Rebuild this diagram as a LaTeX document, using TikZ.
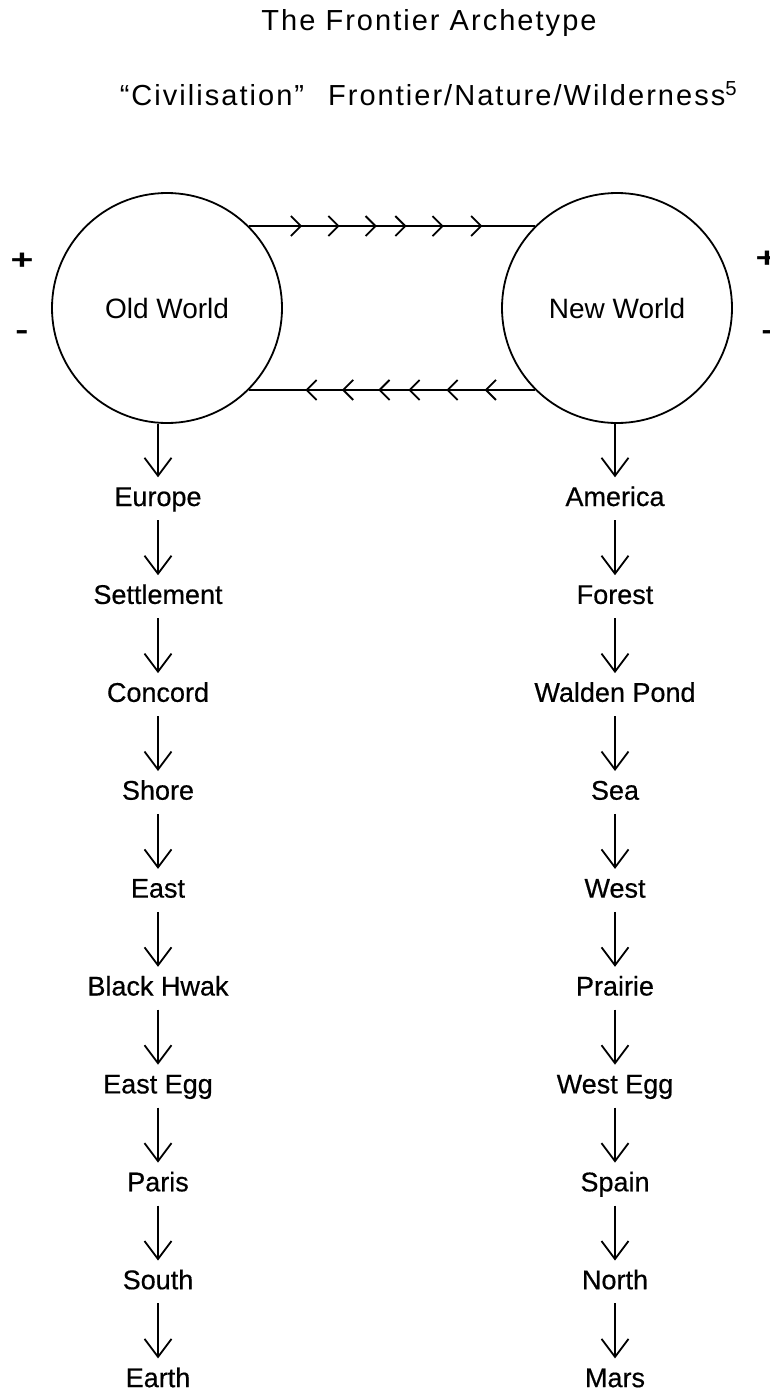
\documentclass[tikz,border=0pt]{standalone}
\usepackage{fontspec}
\setmainfont{Liberation Sans}
\newfontfamily\labfont{Liberation Sans}[FakeBold=0.5]
\newfontfamily\titfont{Liberation Sans}[LetterSpace=7]
\newfontfamily\signfont{Liberation Sans Bold}
\usetikzlibrary{arrows.meta,decorations.markings}
\tikzset{
  chev/.tip={Straight Barb[length=10pt,width=20pt]},
  lbl/.style={font=\labfont\fontsize{27}{32}\selectfont, inner sep=0pt, text height=19pt, text depth=6pt, anchor=base},
  world/.style={draw, circle, minimum size=230pt, inner sep=0pt, line width=1.8pt, font=\fontsize{28}{32}\selectfont},
  ttl/.style={font=\titfont\fontsize{29}{34}\selectfont, inner sep=0pt, anchor=base},
  sign/.style={font=\signfont\fontsize{28}{32}\selectfont, inner sep=0pt},
  down/.style={line width=1.8pt, -{Straight Barb[length=18pt,width=27pt]}, shorten >=9.5pt},
  link/.style={line width=1.8pt},
  fwd/.style={postaction={decorate}, decoration={markings,
    mark=at position 0.186 with {\arrow{chev}},
    mark=at position 0.317 with {\arrow{chev}},
    mark=at position 0.447 with {\arrow{chev}},
    mark=at position 0.551 with {\arrow{chev}},
    mark=at position 0.681 with {\arrow{chev}},
    mark=at position 0.816 with {\arrow{chev}}}},
  bwd/.style={postaction={decorate}, decoration={markings,
    mark=at position 0.197 with {\arrowreversed{chev}},
    mark=at position 0.325 with {\arrowreversed{chev}},
    mark=at position 0.452 with {\arrowreversed{chev}},
    mark=at position 0.557 with {\arrowreversed{chev}},
    mark=at position 0.690 with {\arrowreversed{chev}},
    mark=at position 0.824 with {\arrowreversed{chev}}}}
}
\begin{document}
\begin{tikzpicture}[x=1pt,y=-1pt]
\useasboundingbox (0,0) rectangle (770,1392);
\node[ttl] (title) at (429,30.7) {The Frontier Archetype};
\node[ttl] (subtitle) at (428.5,105) {“Civilisation”\hspace{24pt}Frontier/Nature/Wilderness\textsuperscript{5}};
\node[world] (old) at (167,308) {Old World};
\node[world] (new) at (617,308) {New World};
\node[sign] (lp) at (22,261.5) {\scalebox{1.4}[1]{+}};
\node[sign] (lm) at (22,335) {\scalebox{1.4}[1]{-}};
\node[sign] (rp) at (767,259) {\scalebox{1.4}[1]{+}};
\node[sign] (rm) at (768,335) {\scalebox{1.4}[1]{-}};
\draw[link,fwd] (old.45) -- (new.135);
\draw[link,bwd] (old.-45) -- (new.-135);
\foreach \t [count=\i] in {Europe,Settlement,Concord,Shore,East,Black Hwak,East Egg,Paris,South,Earth}
  \node[lbl] (L\i) at (158,{506+97.9*(\i-1)}) {\t};
\foreach \t [count=\i] in {America,Forest,Walden Pond,Sea,West,Prairie,West Egg,Spain,North,Mars}
  \node[lbl] (R\i) at (615,{506+97.9*(\i-1)}) {\t};
\draw[down] (L1 |- old.south) -- (L1);
\draw[down] (R1 |- new.south) -- (R1);
\foreach \i [evaluate=\i as \j using int(\i+1)] in {1,...,9} {
  \draw[down, shorten <=8pt] (L\i) -- (L\j);
  \draw[down, shorten <=8pt] (R\i) -- (R\j);
}
\end{tikzpicture}
\end{document}
